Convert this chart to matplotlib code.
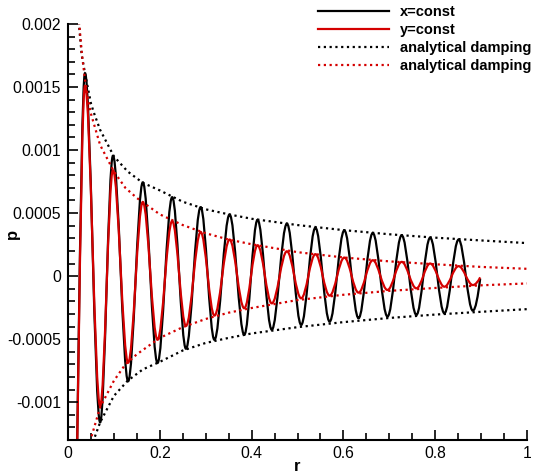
import numpy as np
import matplotlib
matplotlib.use("Agg")
import matplotlib.pyplot as plt
from matplotlib.path import Path
from matplotlib.patches import PathPatch
from matplotlib.lines import Line2D
from matplotlib.ticker import MultipleLocator, FuncFormatter

plt.rcParams['font.family'] = ['Liberation Sans', 'DejaVu Sans']

# extrema of the two pressure traces, shared r positions
r_ext = [0.008, 0.037, 0.070, 0.098, 0.131, 0.163, 0.195, 0.227, 0.257, 0.289,
         0.319, 0.352, 0.384, 0.413, 0.444, 0.477, 0.508, 0.539, 0.570, 0.602,
         0.633, 0.664, 0.696, 0.727, 0.759, 0.789, 0.820, 0.851, 0.882, 0.898]
p_xconst = [-0.003, 0.00161, -0.00116, 0.000955, -0.000834, 0.000744, -0.000689,
            0.000626, -0.000576, 0.000547, -0.000505, 0.000489, -0.000466,
            0.000447, -0.000425, 0.000416, -0.000387, 0.000384, -0.000361,
            0.000363, -0.000334, 0.000342, -0.000321, 0.000324, -0.000308,
            0.000305, -0.000295, 0.00029, -0.000274, -0.00002]
p_yconst = [-0.003, 0.00151, -0.00103, 0.00084, -0.000687, 0.000587, -0.000505,
            0.000437, -0.000395, 0.00035, -0.000313, 0.00029, -0.000255,
            0.000245, -0.000216, 0.000197, -0.000176, 0.000174, -0.000155,
            0.000147, -0.000131, 0.000126, -0.00011, 0.000113, -0.000097,
            0.0001, -0.000084, 0.000079, -0.000071, -0.00001]

# analytical damping envelopes (magnitudes)
r_env_black = [0.02, 0.025, 0.03, 0.037, 0.05, 0.056, 0.07, 0.1, 0.13, 0.163, 0.2,
               0.25, 0.3, 0.35, 0.4, 0.5, 0.6, 0.7, 0.8, 0.9, 1.0]
env_black = [0.0022, 0.00195, 0.00175, 0.00161, 0.00137, 0.0013, 0.00116, 0.00095,
             0.00083, 0.00074, 0.00068, 0.00059, 0.00053, 0.00049, 0.000455,
             0.000405, 0.000365, 0.000332, 0.000305, 0.000283, 0.000262]
r_env_red = [0.02, 0.0246, 0.03, 0.037, 0.049, 0.0595, 0.07, 0.1, 0.125, 0.15, 0.2,
             0.25, 0.3, 0.35, 0.4, 0.5, 0.6, 0.7, 0.8, 0.9, 1.0]
env_red = [0.0022, 0.002, 0.00177, 0.00156, 0.0013, 0.00117, 0.00104, 0.00083,
           0.0007, 0.00062, 0.00049, 0.000405, 0.00034, 0.00029, 0.000253,
           0.00019, 0.000148, 0.000117, 0.000094, 0.000073, 0.000058]

RED = '#d40000'


def smooth_path(r, p):
    # cubic segments with flat tangents at each extremum
    verts = [(r[0], p[0])]
    codes = [Path.MOVETO]
    n = len(r)
    for i in range(1, n):
        dx = r[i] - r[i - 1]
        c1 = (r[i - 1] + 0.36 * dx, p[i - 1])
        if i == n - 1:
            c2 = (r[i] - 0.3 * dx, p[i] - 0.55 * (p[i] - p[i - 1]))
        else:
            c2 = (r[i] - 0.36 * dx, p[i])
        verts += [c1, c2, (r[i], p[i])]
        codes += [Path.CURVE4] * 3
    return Path(verts, codes)


fig = plt.figure(figsize=(5.53, 4.75), dpi=100)
ax = fig.add_axes([68 / 553, 35 / 475, 459 / 553, 416 / 475])

lw = 1.6
ax.add_patch(PathPatch(smooth_path(r_ext, p_xconst), fill=False, ec='black', lw=lw))
ax.add_patch(PathPatch(smooth_path(r_ext, p_yconst), fill=False, ec=RED, lw=lw))

dots = (0, (1, 1.6))
rb = np.array(r_env_black)
eb = np.array(env_black)
rr = np.array(r_env_red)
er = np.array(env_red)
ax.plot(rb, eb, color='black', lw=lw, ls=dots)
ax.plot(rb, -eb, color='black', lw=lw, ls=dots)
ax.plot(rr, er, color=RED, lw=lw, ls=dots)
ax.plot(rr, -er, color=RED, lw=lw, ls=dots)

ax.set_xlim(0, 1)
ax.set_ylim(-0.0013, 0.002)

ax.spines['top'].set_visible(False)
ax.spines['right'].set_visible(False)
for s in ['left', 'bottom']:
    ax.spines[s].set_linewidth(1.5)

ax.xaxis.set_major_locator(MultipleLocator(0.2))
ax.xaxis.set_minor_locator(MultipleLocator(0.05))
ax.yaxis.set_major_locator(MultipleLocator(0.0005))
ax.yaxis.set_minor_locator(MultipleLocator(0.0001))
fmt = FuncFormatter(lambda v, pos: '%g' % round(v, 6))
ax.xaxis.set_major_formatter(fmt)
ax.yaxis.set_major_formatter(fmt)
ax.tick_params(which='both', direction='in', top=False, right=False, width=1.2,
               labelsize=11.3)
ax.tick_params(which='major', length=7.2)
ax.tick_params(which='minor', length=4.8)
ax.tick_params(axis='x', pad=4)
ax.tick_params(axis='y', pad=5)

ax.set_xlabel('r', fontsize=12, fontweight='bold', va='center')
ax.xaxis.set_label_coords(0.5, -0.064)
ax.set_ylabel('p', fontsize=12, fontweight='bold', va='center')
ax.yaxis.set_label_coords(-0.122, 0.495)

handles = [
    Line2D([], [], color='black', lw=lw),
    Line2D([], [], color=RED, lw=lw),
    Line2D([], [], color='black', lw=lw, ls=dots),
    Line2D([], [], color=RED, lw=lw, ls=dots),
]
labels = ['x=const', 'y=const', 'analytical damping', 'analytical damping']
fig.legend(handles, labels, loc='upper left', bbox_to_anchor=(318 / 553, 1 - 5 / 475),
           frameon=False, prop={'weight': 'bold', 'size': 10.5},
           handlelength=4.9, handletextpad=0.7, labelspacing=0.28,
           borderpad=0, borderaxespad=0)

fig.savefig('out.png', dpi=100)
